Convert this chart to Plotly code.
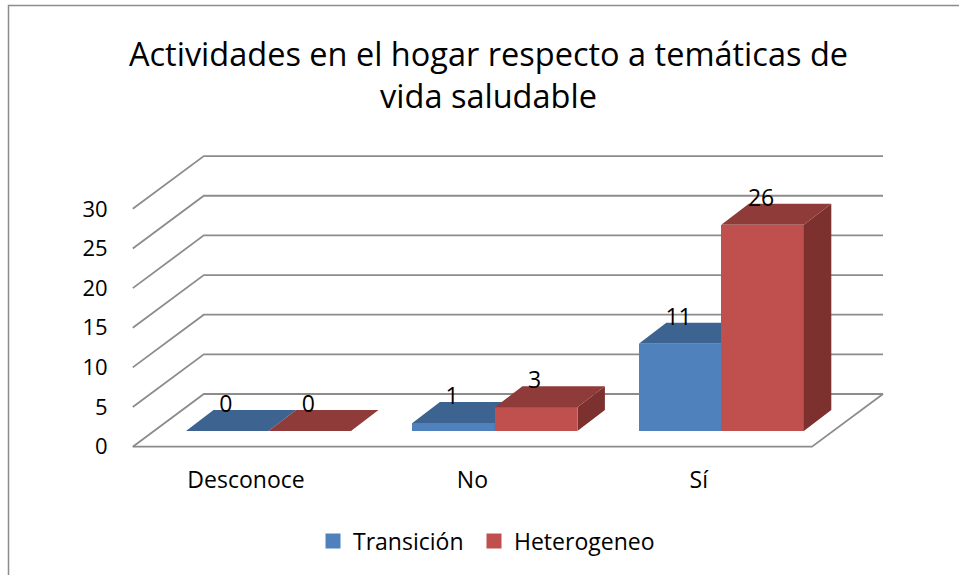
import plotly.graph_objects as go

categories = ["Desconoce", "No", "Sí"]
transicion = [0, 1, 11]
heterogeneo = [0, 3, 26]
y_ticks = [0, 5, 10, 15, 20, 25, 30]
title = "Actividades en el hogar respecto a temáticas de<br>vida saludable"

W, H = 959, 575
CAT_PX = 226.4
UNIT_PX = 7.93
BAR_W = 82.5 / CAT_PX
FONT = "Open Sans"
GRID = "#8c8c8c"


def xrange_for(px0):
    return [-px0 / CAT_PX, (W - px0) / CAT_PX]


def yrange_for(py0):
    return [-(H - py0) / UNIT_PX, py0 / UNIT_PX]


FLOOR_DX = 71 / CAT_PX
FLOOR_DY = 52.7 / UNIT_PX
BAR_DX = 27.5 / CAT_PX
BAR_DY = 21 / UNIT_PX
LABEL_DX = -1.5 / CAT_PX
LABEL_DY = 24.5 / UNIT_PX

fig = go.Figure()

# walls and floor on the front-plane axes
gx, gy = [], []
x_left, x_right = -0.5, 2.5
for v in y_ticks:
    gx += [x_left, x_left + FLOOR_DX, x_right + FLOOR_DX, None]
    gy += [v, v + FLOOR_DY, v + FLOOR_DY, None]
gx += [x_left, x_right, x_right + FLOOR_DX, None]
gy += [0, 0, FLOOR_DY, None]
fig.add_trace(go.Scatter(x=gx, y=gy, mode="lines", line=dict(color=GRID, width=1.8),
                         showlegend=False, hoverinfo="skip", xaxis="x", yaxis="y"))

# each series has its own overlaying axes so that its faces stack above the previous one
series = [
    ("Transición", transicion, -BAR_W, "#4F81BD", "#3D6390", "#375A82", "x2", "y2", "legend"),
    ("Heterogeneo", heterogeneo, 0, "#C0504D", "#8F3B39", "#7D312F", "x3", "y3", "legend2"),
]
xs = list(range(len(categories)))

for name, vals, off, front, top, side, xa, ya, _ in series:
    fig.add_trace(go.Bar(x=[i + off + BAR_W / 2 for i in xs], y=vals, width=BAR_W,
                         marker=dict(color=front, line=dict(width=0)),
                         showlegend=False, hoverinfo="skip", xaxis=xa, yaxis=ya))
    tx, ty, sx, sy = [], [], [], []
    for i, v in zip(xs, vals):
        l, r = i + off, i + off + BAR_W
        tx += [l, r, r + BAR_DX, l + BAR_DX, l, None]
        ty += [v, v, v + BAR_DY, v + BAR_DY, v, None]
        sx += [r, r + BAR_DX, r + BAR_DX, r, r, None]
        sy += [0, BAR_DY, v + BAR_DY, v, 0, None]
    fig.add_trace(go.Scatter(x=sx, y=sy, mode="lines", fill="toself", fillcolor=side,
                             line=dict(width=0), showlegend=False, hoverinfo="skip",
                             xaxis=xa, yaxis=ya))
    fig.add_trace(go.Scatter(x=tx, y=ty, mode="lines", fill="toself", fillcolor=top,
                             line=dict(width=0), showlegend=False, hoverinfo="skip",
                             xaxis=xa, yaxis=ya))

for name, vals, off, *_ in series:
    fig.add_trace(go.Scatter(x=[i + off + BAR_W / 2 + LABEL_DX for i in xs],
                             y=[v + LABEL_DY for v in vals],
                             text=[str(v) for v in vals], mode="text",
                             textposition="middle center",
                             textfont=dict(family=FONT, size=23, color="#000000"),
                             showlegend=False, hoverinfo="skip", xaxis="x3", yaxis="y3"))

# legend keys
for name, vals, off, front, top, side, xa, ya, lg in series:
    fig.add_trace(go.Scatter(x=[None], y=[None], mode="markers", name=name, legend=lg,
                             marker=dict(symbol="square", size=15, color=front),
                             xaxis="x", yaxis="y"))

legend_common = dict(orientation="h", y=1 - 541 / H, yanchor="middle", xanchor="left",
                     font=dict(family=FONT, size=23), bgcolor="rgba(0,0,0,0)")

fig.update_layout(
    width=W, height=H, margin=dict(l=0, r=0, t=0, b=0), autosize=False,
    paper_bgcolor="#ffffff", plot_bgcolor="rgba(0,0,0,0)",
    font=dict(family=FONT, color="#000000"),
    bargap=0, barmode="overlay",
    title=dict(text=title, x=488.5 / W, xanchor="center", y=1 - 66 / H, yanchor="top",
               font=dict(family=FONT, size=32.5, color="#000000")),
    xaxis=dict(domain=[0, 1], range=xrange_for(246), tickmode="array", tickvals=xs,
               ticktext=categories, showgrid=False, zeroline=False, showline=False,
               anchor="free", position=(H - 446.7) / H, side="bottom",
               ticks="outside", ticklen=13, tickcolor="rgba(0,0,0,0)",
               tickfont=dict(family=FONT, size=23)),
    yaxis=dict(domain=[0, 1], range=yrange_for(446.7), tickmode="array", tickvals=y_ticks,
               showgrid=False, zeroline=False, showline=False,
               anchor="free", position=133 / W, side="left",
               ticks="outside", ticklen=21, tickcolor="rgba(0,0,0,0)",
               tickfont=dict(family=FONT, size=22)),
    xaxis2=dict(domain=[0, 1], range=xrange_for(268.5), overlaying="x", visible=False),
    yaxis2=dict(domain=[0, 1], range=yrange_for(431), overlaying="y", visible=False),
    xaxis3=dict(domain=[0, 1], range=xrange_for(268.5), overlaying="x", visible=False),
    yaxis3=dict(domain=[0, 1], range=yrange_for(431), overlaying="y", visible=False),
    legend=dict(x=313 / W, **legend_common),
    legend2=dict(x=474 / W, **legend_common),
    shapes=[dict(type="path", xref="paper", yref="paper",
                 path=f"M {8.5 / W} 0 L {8.5 / W} {1 - 5.5 / H} L 1 {1 - 5.5 / H}",
                 line=dict(color="#8c8c8c", width=1.5))],
)

fig.write_html("out.html", config=dict(displayModeBar=False),
               post_script="document.body.style.margin='0';")
